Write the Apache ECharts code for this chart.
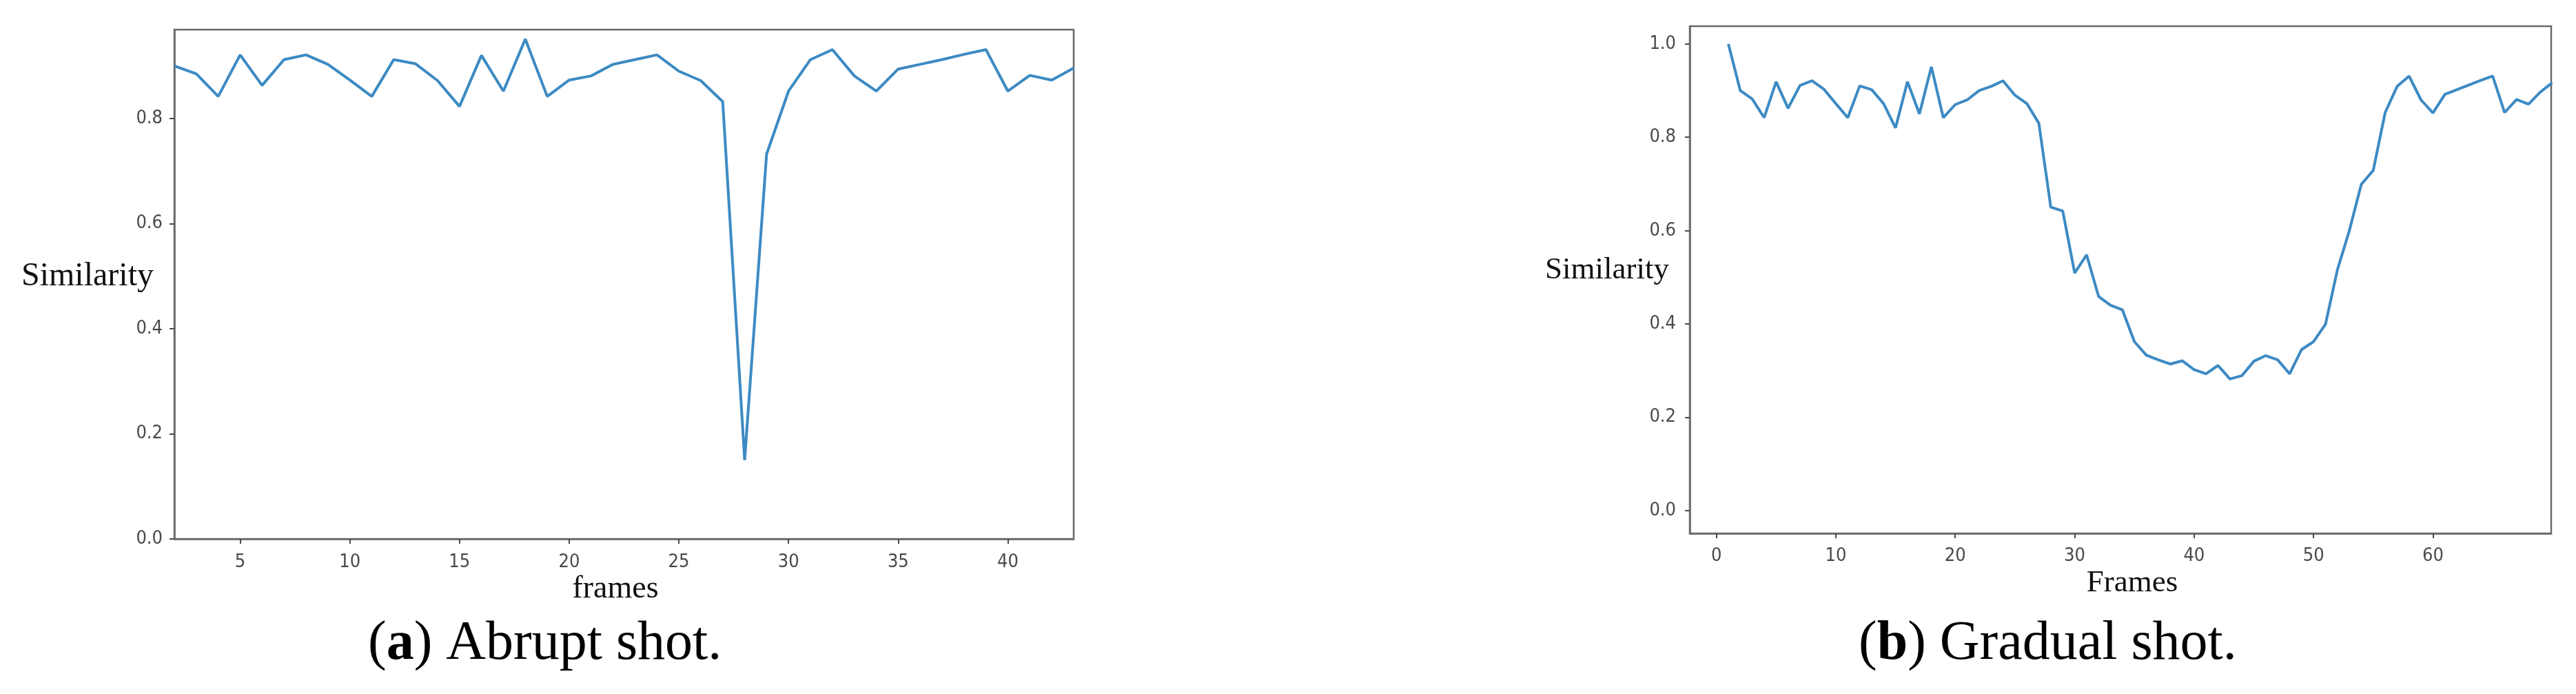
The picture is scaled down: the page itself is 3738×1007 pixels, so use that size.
<!DOCTYPE html>
<html>
<head>
<meta charset="utf-8">
<script src="https://cdn.jsdelivr.net/npm/echarts@6/dist/echarts.min.js"></script>
<style>
html,body{margin:0;padding:0;background:#fff;}
#chart{width:3738px;height:1007px;}
</style>
</head>
<body>
<div id="chart"></div>
<script>
// ---- Data ----
const framesA = [2,3,4,5,6,7,8,9,10,11,12,13,14,15,16,17,18,19,20,21,22,23,24,25,26,27,28,29,30,31,32,33,34,35,36,37,38,39,40,41,42,43];
const simA = [0.900,0.885,0.842,0.921,0.863,0.912,0.921,0.903,0.873,0.842,0.912,0.904,0.872,0.823,0.920,0.852,0.951,0.842,0.873,0.881,0.903,0.912,0.921,0.890,0.872,0.832,0.150,0.732,0.852,0.912,0.931,0.881,0.852,0.894,0.903,0.912,0.922,0.931,0.852,0.882,0.873,0.896];

const framesB = [];
for (let i = 1; i <= 70; i++) framesB.push(i);
const simB = [1.000,0.900,0.882,0.842,0.919,0.862,0.911,0.921,0.903,0.872,
              0.842,0.910,0.902,0.872,0.820,0.919,0.850,0.951,0.842,0.870,
              0.880,0.900,0.909,0.921,0.890,0.872,0.830,0.650,0.642,0.509,
              0.548,0.459,0.440,0.430,0.362,0.333,0.323,0.314,0.321,0.302,
              0.293,0.311,0.282,0.289,0.320,0.332,0.323,0.293,0.345,0.362,
              0.399,0.516,0.600,0.699,0.729,0.853,0.909,0.931,0.880,0.852,
              0.892,0.902,0.912,0.922,0.931,0.853,0.881,0.871,0.897,0.917];

const xTicksA = [5,10,15,20,25,30,35,40];
const yTicksA = [0.0,0.2,0.4,0.6,0.8];
const xTicksB = [0,10,20,30,40,50,60];
const yTicksB = [0.0,0.2,0.4,0.6,0.8,1.0];

// ---- Chart ----
const chart = echarts.init(document.getElementById('chart'), null, {renderer: 'canvas'});
const lineColor = '#3c8ac3';
const axisGray = '#6a6a6a';
const labelGray = '#4a4a4a';
const tickFont = '"DejaVu Sans Condensed", "DejaVu Sans"';

function xAxisCfg(gridIndex, min, max, ticks, margin, fontSize) {
  return {
    type: 'value', gridIndex, min, max,
    axisLine: {show: true, onZero: false, lineStyle: {color: axisGray, width: 2.5}},
    axisTick: {show: true, length: 7, lineStyle: {color: labelGray, width: 2}, customValues: ticks},
    axisLabel: {color: labelGray, fontFamily: tickFont, fontSize, margin, customValues: ticks,
                formatter: v => String(Math.round(v))},
    splitLine: {show: false}
  };
}
function yAxisCfg(gridIndex, min, max, ticks, margin, fontSize) {
  return {
    type: 'value', gridIndex, min, max,
    axisLine: {show: true, onZero: false, lineStyle: {color: axisGray, width: 2.5}},
    axisTick: {show: true, length: 7, lineStyle: {color: labelGray, width: 2}, customValues: ticks},
    axisLabel: {color: labelGray, fontFamily: tickFont, fontSize, margin, customValues: ticks,
                formatter: v => v.toFixed(1)},
    splitLine: {show: false}
  };
}

const option = {
  animation: false,
  backgroundColor: '#ffffff',
  grid: [
    {left: 253, top: 43, width: 1305, height: 739, show: true, borderColor: axisGray, borderWidth: 2.5, backgroundColor: 'transparent'},
    {left: 2452, top: 38, width: 1250, height: 736, show: true, borderColor: axisGray, borderWidth: 2.5, backgroundColor: 'transparent'}
  ],
  xAxis: [
    xAxisCfg(0, 2, 43, xTicksA, 20, 27),
    xAxisCfg(1, -2.23, 69.9, xTicksB, 19, 27)
  ],
  yAxis: [
    yAxisCfg(0, 0, 0.969, yTicksA, 17, 27),
    yAxisCfg(1, -0.049, 1.038, yTicksB, 20, 27)
  ],
  series: [
    {type: 'line', xAxisIndex: 0, yAxisIndex: 0, showSymbol: false, symbol: 'none',
     lineStyle: {color: lineColor, width: 4}, clip: true,
     data: framesA.map((f, i) => [f, simA[i]])},
    {type: 'line', xAxisIndex: 1, yAxisIndex: 1, showSymbol: false, symbol: 'none',
     lineStyle: {color: lineColor, width: 4}, clip: true,
     data: framesB.map((f, i) => [f, simB[i]])}
  ],
  graphic: [
    {type: 'text', left: 31, top: 403 - 26, style: {text: 'Similarity', font: '48px "Liberation Serif"', fill: '#111'}},
    {type: 'text', x: 893, y: 855, style: {text: 'frames', font: '46px "Liberation Serif"', fill: '#111', align: 'center', verticalAlign: 'middle'}},
    {type: 'text', left: 2242, top: 394 - 24, style: {text: 'Similarity', font: '45px "Liberation Serif"', fill: '#111'}},
    {type: 'text', x: 3094, y: 846, style: {text: 'Frames', font: '45px "Liberation Serif"', fill: '#111', align: 'center', verticalAlign: 'middle'}},
    {type: 'text', x: 534, y: 935, style: {
      text: '{p|(}{b|a}{p|) Abrupt shot.}',
      rich: {p: {font: '80px "Liberation Serif"', fill: '#000'}, b: {font: 'bold 80px "Liberation Serif"', fill: '#000'}},
      verticalAlign: 'middle'}},
    {type: 'text', x: 2697, y: 935, style: {
      text: '{p|(}{b|b}{p|) Gradual shot.}',
      rich: {p: {font: '80px "Liberation Serif"', fill: '#000'}, b: {font: 'bold 80px "Liberation Serif"', fill: '#000'}},
      verticalAlign: 'middle'}}
  ]
};
chart.setOption(option);
</script>
</body>
</html>
